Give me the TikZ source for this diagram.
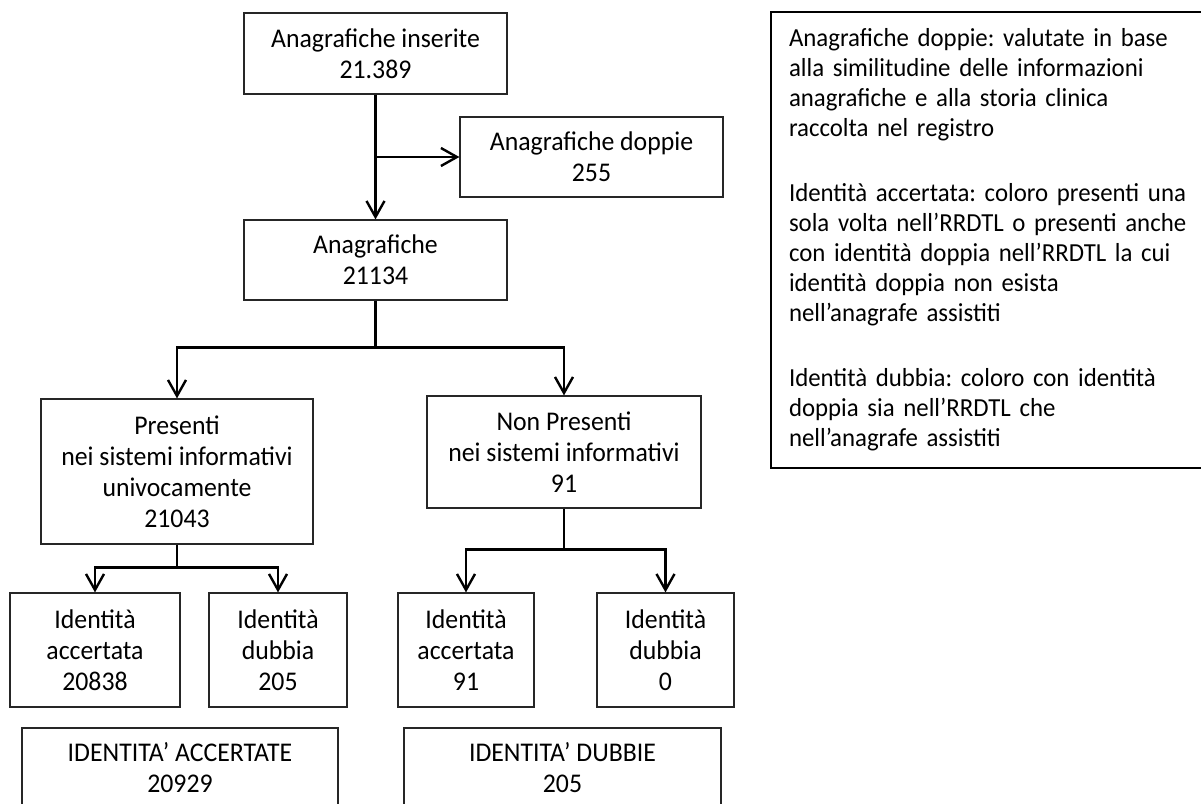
\documentclass[tikz,border=0pt]{standalone}
\usepackage{fontspec}
\setmainfont{Carlito}[FakeStretch=0.955]
\frenchspacing
\usetikzlibrary{arrows.meta}
\usetikzlibrary{positioning}
\usetikzlibrary{calc}

\tikzset{
  box/.style={draw=black!85, line width=0.6pt, align=center, inner sep=0pt, font=\fontsize{13.5}{15.5}\selectfont},
  link/.style={line width=1.2pt},
  arr/.style={link, -{Straight Barb[length=8pt,width=9pt]}},
}

\begin{document}
\begin{tikzpicture}[x=0.5pt,y=-0.5pt]
\useasboundingbox (0,0) rectangle (1201,804);

\node [box, minimum width=131.5pt, minimum height=40.5pt] (ins) at (375.5,53.5) {Anagrafiche inserite\\21.389};
\node [box, minimum width=131.5pt, minimum height=40pt] (dop) at (591.5,157) {Anagrafiche doppie\\255};
\node [box, minimum width=131.5pt, minimum height=40pt] (ana) at (375.5,260) {Anagrafiche\\21134};

\node [box, minimum width=136pt, minimum height=72.5pt] (pres) at (177,471.5) {Presenti\\nei sistemi informativi\\univocamente\\21043};
\node [box, minimum width=137pt, minimum height=56pt] (nonp) at (564,452) {Non Presenti\\nei sistemi informativi\\91};

\node [box, minimum width=85pt, minimum height=57pt] (acc1) at (95,650) {Identità\\accertata\\20838};
\node [box, minimum width=69pt, minimum height=57pt] (dub1) at (278,650) {Identità\\dubbia\\205};
\node [box, minimum width=68pt, minimum height=57pt] (acc2) at (466,650) {Identità\\accertata\\91};
\node [box, minimum width=68.5pt, minimum height=57pt] (dub2) at (665.5,650) {Identità\\dubbia\\0};

\node [box, minimum width=158pt, minimum height=40pt] (totacc) at (180,768) {IDENTITA’ ACCERTATE\\20929};
\node [box, minimum width=158.5pt, minimum height=40pt] (totdub) at (562.5,768) {IDENTITA’ DUBBIE\\205};

\node [box, draw=black, line width=1pt, font=\fontsize{13}{15}\selectfont, anchor=north west, align=left, text width=208pt, inner xsep=9pt, minimum width=217pt, minimum height=228pt] (legend) at (770,11)
  {Anagrafiche doppie: valutate in base\\alla similitudine delle informazioni\\anagrafiche e alla storia clinica\\raccolta nel registro\\[17.5pt]
   Identità accertata: coloro presenti una\\sola volta nell’RRDTL o presenti anche\\con identità doppia nell’RRDTL la cui\\identità doppia non esista\\nell’anagrafe assistiti\\[17.5pt]
   Identità dubbia: coloro con identità\\doppia sia nell’RRDTL che\\nell’anagrafe assistiti};

\draw [arr] (ins.south) -- (ana.north);
\draw [arr] (ins.south |- dop.west) -- (dop.west);
\draw [arr] (ana.south) -- ++(0,47) -| (pres.north);
\draw [arr] (ana.south) -- ++(0,47) -| (nonp.north);
\draw [arr] (pres.south) -- ++(0,23) -| (acc1.north);
\draw [arr] (pres.south) -- ++(0,23) -| (dub1.north);
\draw [arr] (nonp.south) -- ++(0,41) -| (acc2.north);
\draw [arr] (nonp.south) -- ++(0,41) -| (dub2.north);
\end{tikzpicture}
\end{document}
